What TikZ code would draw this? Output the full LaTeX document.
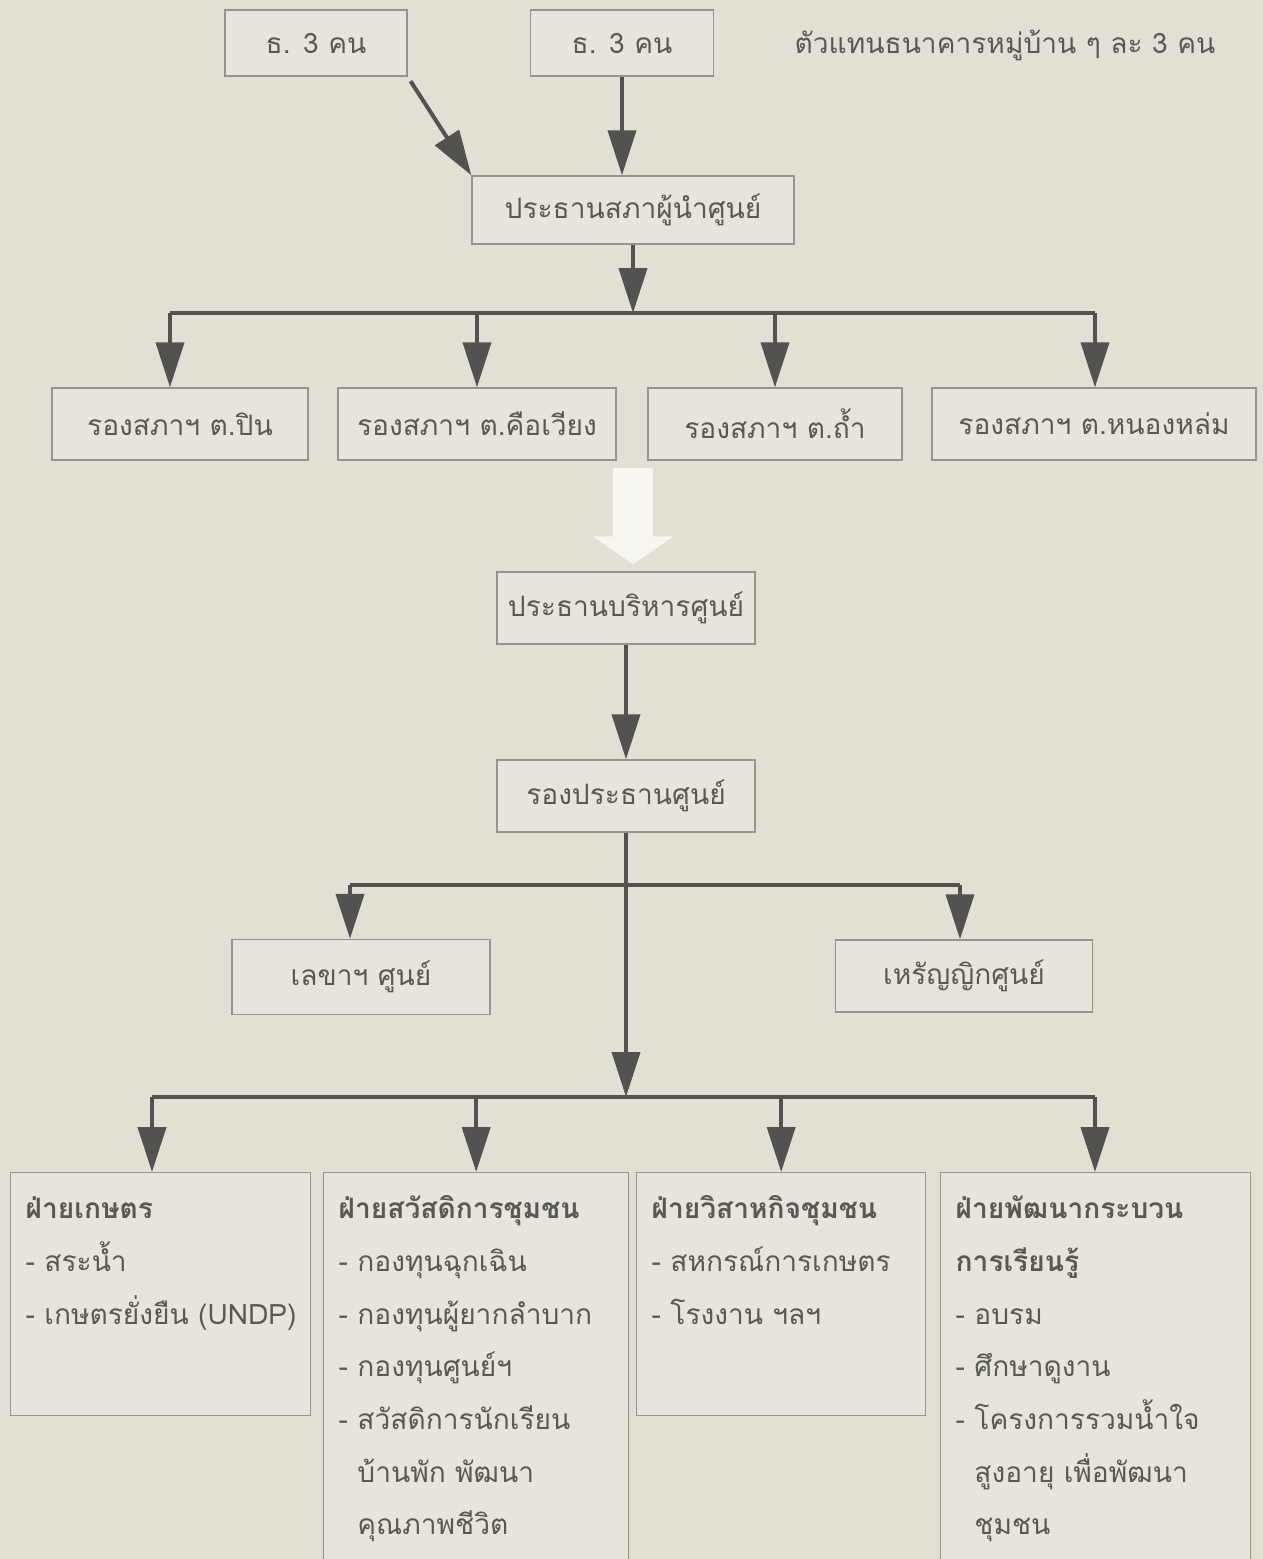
\documentclass[tikz,border=0pt]{standalone}
\usepackage{fontspec}
\newfontfamily\thaifont[Script=Thai]{Loma}
\usepackage{xcolor}
\usetikzlibrary{arrows.meta,positioning}

\definecolor{bg}{RGB}{226,224,212}
\definecolor{boxfill}{RGB}{231,229,219}
\definecolor{boxline}{RGB}{150,148,140}
\definecolor{ink}{RGB}{88,88,86}
\definecolor{arrowgray}{RGB}{82,82,80}
\definecolor{paleshade}{RGB}{247,246,240}

\begin{document}
\begin{tikzpicture}[
    x=0.02cm, y=-0.02cm,
    font=\thaifont\fontsize{16}{30}\selectfont,
    unit/.style={rectangle, draw=boxline, line width=0.8pt, fill=boxfill, text=ink, minimum height=1.44cm, align=center},
    sect/.style={rectangle, draw=boxline, line width=0.8pt, fill=boxfill, text=ink, anchor=north west, align=left, inner xsep=0.3cm, inner ysep=0.2cm, text height=0.72cm},
    link/.style={-{Triangle[width=0.56cm,length=0.9cm]}, line width=0.08cm, draw=arrowgray, fill=arrowgray},
    bus/.style={line width=0.08cm, draw=arrowgray},
    fat/.style={-{Triangle[width=1.6cm,length=0.56cm]}, line width=0.8cm, draw=paleshade, fill=paleshade}
]
\clip (0,0) rectangle (1263,1559);
\fill[bg] (0,0) rectangle (1263,1559);

\node[unit, minimum width=3.64cm, minimum height=1.32cm] (bank1) at (316,43) {ธ. 3 คน};
\node[unit, minimum width=3.66cm, minimum height=1.32cm] (bank2) at (622,43) {ธ. 3 คน};
\node[text=ink] (note) at (1005,45) {ตัวแทนธนาคารหมู่บ้าน ๆ ละ 3 คน};

\node[unit, minimum width=6.44cm, minimum height=1.36cm] (sapha) at (633,210) {ประธานสภาผู้นำศูนย์};

\node[unit, minimum width=5.12cm] (pin) at (180,424) {รองสภาฯ ต.ปิน};
\node[unit, minimum width=5.56cm] (khuewiang) at (477,424) {รองสภาฯ ต.คือเวียง};
\node[unit, minimum width=5.08cm] (tham) at (775,424) {รองสภาฯ ต.ถ้ำ};
\node[unit, minimum width=6.48cm] (nonglom) at (1094,424) {รองสภาฯ ต.หนองหล่ม};

\node[unit, minimum width=5.16cm] (borihan) at (626,608) {ประธานบริหารศูนย์};
\node[unit, minimum width=5.16cm] (rong) at (626,796) {รองประธานศูนย์};

\node[unit, minimum width=5.16cm, minimum height=1.5cm] (lekha) at (361,977) {เลขาฯ ศูนย์};
\node[unit, minimum width=5.14cm] (hrain) at (964,976) {เหรัญญิกศูนย์};

\node[sect, text width=5.4cm, text depth=3.74cm] (kaset) at (10,1172)
  {\textbf{ฝ่ายเกษตร}\\- สระน้ำ\\\mbox{- เกษตรยั่งยืน (UNDP)}};
\node[sect, text width=5.5cm, text depth=7.28cm] (sawat) at (323,1172)
  {\textbf{ฝ่ายสวัสดิการชุมชน}\\- กองทุนฉุกเฉิน\\- กองทุนผู้ยากลำบาก\\- กองทุนศูนย์ฯ\\- สวัสดิการนักเรียน\\\hphantom{- }บ้านพัก พัฒนา\\\hphantom{- }คุณภาพชีวิต};
\node[sect, text width=5.18cm, text depth=3.74cm] (wisa) at (636,1172)
  {\textbf{ฝ่ายวิสาหกิจชุมชน}\\- สหกรณ์การเกษตร\\- โรงงาน ฯลฯ};
\node[sect, text width=5.6cm, text depth=7.28cm] (phatthana) at (940,1172)
  {\textbf{ฝ่ายพัฒนากระบวน}\\\textbf{การเรียนรู้}\\- อบรม\\- ศึกษาดูงาน\\- โครงการรวมน้ำใจ\\\hphantom{- }สูงอายุ เพื่อพัฒนา\\\hphantom{- }ชุมชน};

\coordinate (b1w) at (170,313);
\coordinate (b1e) at (1095,313);
\coordinate (b2w) at (350,885);
\coordinate (b2e) at (960,885);
\coordinate (b3w) at (152,1097);
\coordinate (b3e) at (1095,1097);
\coordinate (fatstart) at (633,468);

\draw[link, shorten <=3pt] (bank1.south east) -- (sapha.north west);
\draw[link] (bank2.south) -- (bank2.south |- sapha.north);
\draw[link] (sapha.south) -- (sapha.south |- b1w);

\draw[bus] (b1w) -- (b1e);
\draw[link] (b1w) -- (b1w |- pin.north);
\draw[link] (khuewiang.north |- b1w) -- (khuewiang.north);
\draw[link] (tham.north |- b1w) -- (tham.north);
\draw[link] (b1e) -- (b1e |- nonglom.north);

\draw[fat, shorten >=4pt] (fatstart) -- (fatstart |- borihan.north);

\draw[link] (borihan) -- (rong);
\draw[link] (rong.south) -- (rong.south |- b3w);

\draw[bus] (b2w) -- (b2e);
\draw[link] (b2w) -- (b2w |- lekha.north);
\draw[link] (b2e) -- (b2e |- hrain.north);

\draw[bus] (b3w) -- (b3e);
\draw[link] (b3w) -- (b3w |- kaset.north);
\draw[link] (sawat.north |- b3w) -- (sawat.north);
\draw[link] (wisa.north |- b3w) -- (wisa.north);
\draw[link] (b3e) -- (b3e |- phatthana.north);

\end{tikzpicture}
\end{document}
